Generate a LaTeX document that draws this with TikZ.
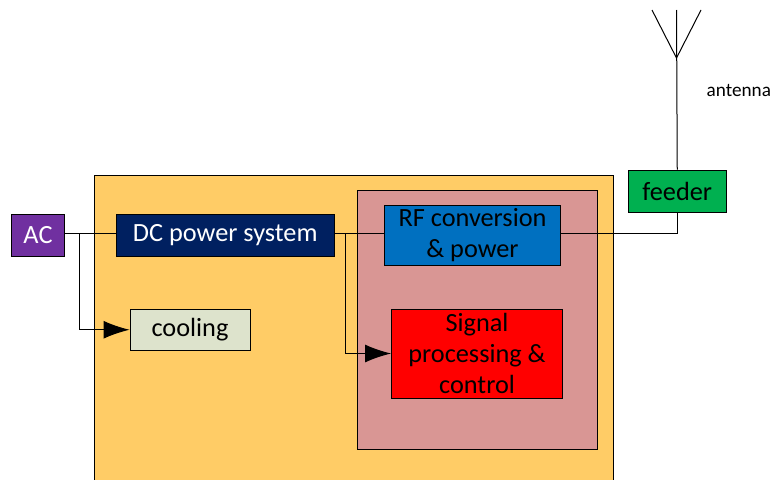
\documentclass[tikz,border=0pt]{standalone}
\usepackage{fontspec}
\setmainfont{Carlito}
\usetikzlibrary{positioning}
\usetikzlibrary{arrows.meta}
\definecolor{rackcol}{HTML}{FFCC66}
\definecolor{bbcol}{HTML}{D99694}
\definecolor{accol}{HTML}{7030A0}
\definecolor{dccol}{HTML}{002060}
\definecolor{rfcol}{HTML}{0070C0}
\definecolor{coolcol}{HTML}{DDE3CC}
\definecolor{feedcol}{HTML}{00B050}
\tikzset{
  block/.style={draw=black,line width=1pt,inner sep=0pt,align=center,font=\fontsize{26.3}{31}\selectfont},
  feed/.style={line width=1pt},
  feedarrow/.style={line width=1pt,-{Latex[length=26pt,width=18pt]}}
}
\begin{document}
\begin{tikzpicture}[x=1pt,y=-1pt]
\clip (0,0) rectangle (773,479);
\node[block,fill=rackcol,anchor=north west,minimum width=519.5pt,minimum height=320pt] (rack) at (93.5,175) {};
\node[block,fill=bbcol,anchor=north west,minimum width=239.5pt,minimum height=259.5pt] (bbu) at (357,189.5) {};
\node[block,fill=accol,text=white,minimum width=53pt,minimum height=42pt] (ac) at (38,235) {AC};
\node[block,fill=dccol,text=white,minimum width=217.5pt,minimum height=42pt,right=51pt of ac] (dc) {DC power system};
\node[block,fill=coolcol,minimum width=120pt,minimum height=41.5pt,anchor=north west] (cooling) at (129.5,308.5) {cooling};
\node[block,fill=rfcol,minimum width=176pt,minimum height=60.5pt,anchor=north west] (rf) at (384,204.5) {RF conversion\\\& power};
\node[block,fill=red,minimum width=171pt,minimum height=89pt,anchor=north west] (signal) at (391,308.5) {Signal\\processing \&\\control};
\node[block,fill=feedcol,minimum width=97.5pt,minimum height=42pt,anchor=north west] (feeder) at (628,169.5) {feeder};
\node[font=\fontsize{19.2}{22}\selectfont,anchor=west,inner sep=0pt] (antenna) at (706.5,90) {antenna};
\coordinate (bus) at (0,233.5);
\coordinate (j1) at (79,233.5);
\coordinate (j2) at (345,233.5);
\coordinate (tip) at (676.5,58);
\coordinate (arm1) at (652,10);
\coordinate (arm2) at (701,10);
\coordinate (mast) at (676.5,10);
%%%%%%%%%%%%%%
\draw[feed] (ac.east |- bus) -- (dc.west |- bus);
\draw[feed] (dc.east |- bus) -- (rf.west |- bus);
\draw[feed] (rf.east |- bus) -| (feeder.south);
\draw[feedarrow] (j1) |- (cooling.west);
\draw[feedarrow] (j2) |- (signal.west);
%%%%%%%%%%%%%%
\draw[feed] (feeder.north) -- (mast);
\draw[feed] (arm1) -- (tip);
\draw[feed] (arm2) -- (tip);
\end{tikzpicture}
\end{document}
